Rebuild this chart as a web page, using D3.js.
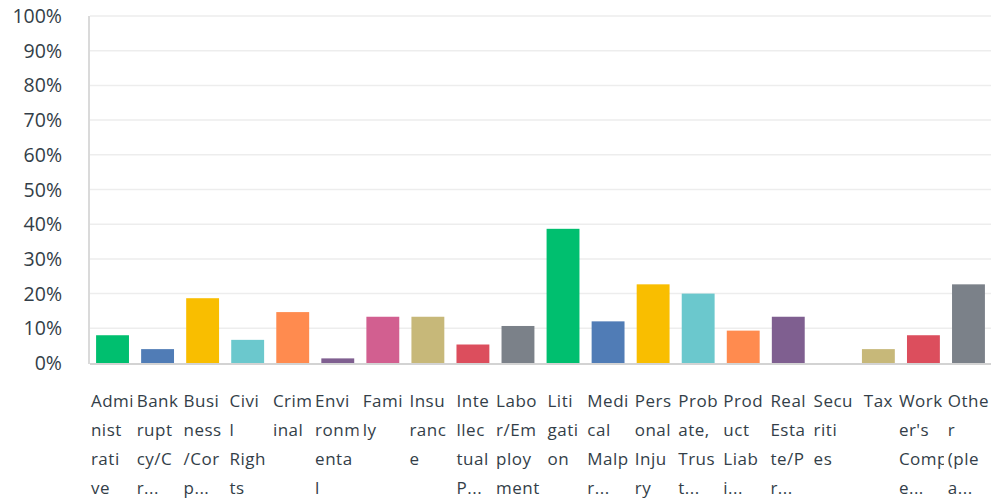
<!DOCTYPE html>
<html>
<head>
<meta charset="utf-8">
<script src="https://cdn.jsdelivr.net/npm/d3@7"></script>
<style>
  html, body { margin: 0; padding: 0; background: #fff; }
  text { font-family: "Open Sans", "Noto Sans", sans-serif; fill: #333e48; }
</style>
</head>
<body>
<div id="chart"></div>
<script>
// categories, and their label lines as the chart wraps and truncates them
const categories = [
    "Administrative", "Bankruptcy/Cr", "Business/Corp", "Civil Rights", "Criminal",
    "Environmental", "Family", "Insurance", "Intellectual P", "Labor/Employment",
    "Litigation", "Medical Malpr", "Personal Injury", "Probate, Trust", "Product Liabi",
    "Real Estate/Per", "Securities", "Tax", "Worker's Comp", "Other (please)"
];
const labelLines = [
    ["Admi", "nist", "rati", "ve"],
    ["Bank", "rupt", "cy/C", "r..."],
    ["Busi", "ness", "/Cor", "p..."],
    ["Civi", "l", "Righ", "ts"],
    ["Crim", "inal"],
    ["Envi", "ronm", "enta", "l"],
    ["Fami", "ly"],
    ["Insu", "ranc", "e"],
    ["Inte", "llec", "tual", "P..."],
    ["Labo", "r/Em", "ploy", "ment"],
    ["Liti", "gati", "on"],
    ["Medi", "cal", "Malp", "r..."],
    ["Pers", "onal", "Inju", "ry"],
    ["Prob", "ate,", "Trus", "t..."],
    ["Prod", "uct", "Liab", "i..."],
    ["Real", "Esta", "te/P", "r..."],
    ["Secu", "riti", "es"],
    ["Tax"],
    ["Work", "er's", "Comp", "e..."],
    ["Othe", "r", "(ple", "a..."]
];
// percent of respondents
const values = [
    8.00, 4.00, 18.67, 6.67, 14.67, 1.33, 13.33, 13.33, 5.33, 10.67,
    38.67, 12.00, 22.67, 20.00, 9.33, 13.33, 0, 4.00, 8.00, 22.67
];
const palette = [
    "#00bf6f", "#507cb6", "#f9be00", "#6bc8cd", "#ff8b4f",
    "#7f5f90", "#d25f90", "#c7b879", "#dc4e5d", "#7b8189"
];
const yTicks = [0, 10, 20, 30, 40, 50, 60, 70, 80, 90, 100];

const width = 997, height = 498;
const margin = { top: 16, right: 6, bottom: 135, left: 90 };

const svg = d3.select("#chart").append("svg")
    .attr("width", width)
    .attr("height", height);

const x = d3.scaleBand()
    .domain(categories)
    .range([margin.left, width - margin.right])
    .paddingInner(0.27)
    .paddingOuter(0.135);

const y = d3.scaleLinear()
    .domain([0, 100])
    .range([height - margin.bottom, margin.top]);

// gridlines
svg.append("g")
    .selectAll("line")
    .data(yTicks.filter(d => d > 0))
    .enter().append("line")
    .attr("x1", margin.left)
    .attr("x2", width - margin.right)
    .attr("y1", d => y(d))
    .attr("y2", d => y(d))
    .attr("stroke", "#ededed")
    .attr("stroke-width", 1.5);

// y labels
svg.append("g")
    .selectAll("text")
    .data(yTicks)
    .enter().append("text")
    .attr("x", 62)
    .attr("y", d => y(d))
    .attr("dy", "0.36em")
    .attr("text-anchor", "end")
    .style("font-size", "19.5px")
    .text(d => d + "%");

// left axis line
svg.append("line")
    .attr("x1", margin.left - 1).attr("x2", margin.left - 1)
    .attr("y1", y(100)).attr("y2", y(0) + 1)
    .attr("stroke", "#dadada")
    .attr("stroke-width", 2);

// bars
svg.append("g")
    .selectAll("rect")
    .data(values)
    .enter().append("rect")
    .attr("x", (d, i) => x(categories[i]))
    .attr("width", x.bandwidth())
    .attr("y", d => y(d))
    .attr("height", d => y(0) - y(d))
    .attr("fill", (d, i) => palette[i % palette.length]);

// baseline
svg.append("line")
    .attr("x1", margin.left).attr("x2", width - margin.right)
    .attr("y1", y(0) + 1).attr("y2", y(0) + 1)
    .attr("stroke", "#d3d3d3")
    .attr("stroke-width", 2);

// category labels: each block centred on its bar, with a white box,
// so a later label covers the overflow of the one before it
const pad = 4;
const labels = svg.append("g")
    .selectAll("g")
    .data(categories)
    .enter().append("g");

labels.each(function(c, i) {
    const g = d3.select(this);
    const box = g.append("rect").attr("fill", "#fff");
    const texts = labelLines[i].map((line, k) =>
        g.append("text")
            .attr("y", 407 + k * 29)
            .style("font-size", "17px")
            .style("letter-spacing", "0.5px")
            .text(line));
    const w = d3.max(texts, t => t.node().getComputedTextLength());
    const left = x(c) + x.bandwidth() / 2 - w / 2;
    texts.forEach(t => t.attr("x", left));
    box.attr("x", left - pad)
        .attr("y", y(0) + 18)
        .attr("width", w + pad * 2)
        .attr("height", height - y(0) - 18);
});
</script>
</body>
</html>
